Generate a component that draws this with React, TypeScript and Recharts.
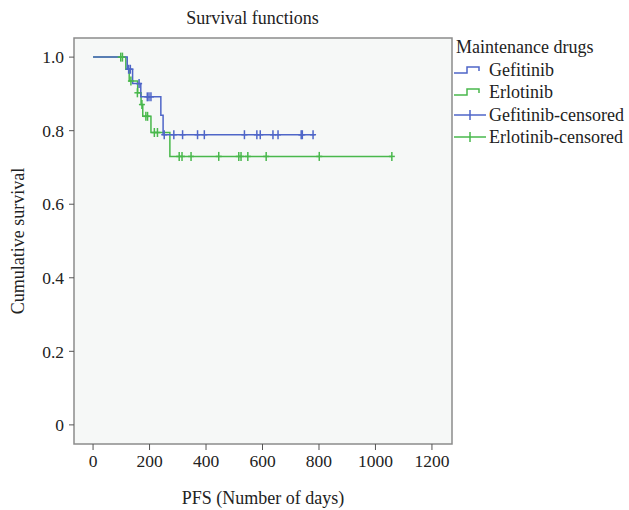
import React from 'react';
import { ComposedChart, Line, Scatter, XAxis, YAxis, CartesianGrid, ReferenceArea, Label } from 'recharts';

// Kaplan-Meier step points (day, cumulative survival)
const gefitinibSteps = [
  { x: 0, y: 1.0 },
  { x: 121, y: 0.967 },
  { x: 140, y: 0.928 },
  { x: 169, y: 0.892 },
  { x: 240, y: 0.842 },
  { x: 248, y: 0.789 },
  { x: 785, y: 0.789 },
];

const erlotinibSteps = [
  { x: 0, y: 1.0 },
  { x: 116, y: 0.967 },
  { x: 128, y: 0.935 },
  { x: 158, y: 0.903 },
  { x: 170, y: 0.871 },
  { x: 176, y: 0.839 },
  { x: 205, y: 0.795 },
  { x: 272, y: 0.73 },
  { x: 1058, y: 0.73 },
];

// Censored observations
const gefitinibCensored = [
  { x: 126, y: 0.967 }, { x: 132, y: 0.967 }, { x: 163, y: 0.928 },
  { x: 192, y: 0.892 }, { x: 198, y: 0.892 }, { x: 205, y: 0.892 },
  { x: 252, y: 0.789 }, { x: 286, y: 0.789 }, { x: 317, y: 0.789 },
  { x: 370, y: 0.789 }, { x: 394, y: 0.789 }, { x: 536, y: 0.789 },
  { x: 580, y: 0.789 }, { x: 592, y: 0.789 }, { x: 637, y: 0.789 },
  { x: 655, y: 0.789 }, { x: 737, y: 0.789 }, { x: 741, y: 0.789 },
  { x: 779, y: 0.789 },
];

const erlotinibCensored = [
  { x: 98, y: 1.0 }, { x: 104, y: 1.0 }, { x: 134, y: 0.935 },
  { x: 157, y: 0.903 }, { x: 173, y: 0.871 }, { x: 187, y: 0.839 },
  { x: 193, y: 0.839 }, { x: 217, y: 0.795 }, { x: 228, y: 0.795 },
  { x: 305, y: 0.73 }, { x: 315, y: 0.73 }, { x: 347, y: 0.73 },
  { x: 445, y: 0.73 }, { x: 516, y: 0.73 }, { x: 524, y: 0.73 },
  { x: 548, y: 0.73 }, { x: 613, y: 0.73 }, { x: 801, y: 0.73 },
  { x: 1058, y: 0.73 },
];

const xTicks = [0, 200, 400, 600, 800, 1000, 1200];
const yTicks = [0, 0.2, 0.4, 0.6, 0.8, 1.0];

const BLUE = '#4f66c8';
const GREEN = '#49b84c';
const FONT = '"Liberation Serif", "Times New Roman", serif';

const censorMark = (color: string) => (props: any) => {
  const { cx, cy } = props;
  return (
    <g>
      <line x1={cx} x2={cx} y1={cy - 4.5} y2={cy + 4.5} stroke={color} strokeWidth={1.5} />
      <line x1={cx - 3} x2={cx + 3} y1={cy} y2={cy} stroke={color} strokeWidth={1.5} />
    </g>
  );
};

const StepIcon = ({ color }: { color: string }) => (
  <svg width={34} height={14} style={{ display: 'block' }}>
    <path d="M1 10 H14 V4 H26 V8" fill="none" stroke={color} strokeWidth={1.5} />
  </svg>
);

const CensorIcon = ({ color }: { color: string }) => (
  <svg width={34} height={14} style={{ display: 'block' }}>
    <line x1={1} x2={33} y1={7} y2={7} stroke={color} strokeWidth={1.5} />
    <line x1={17} x2={17} y1={2} y2={12} stroke={color} strokeWidth={1.5} />
  </svg>
);

const legendItems = [
  { label: 'Gefitinib', icon: <StepIcon color={BLUE} /> },
  { label: 'Erlotinib', icon: <StepIcon color={GREEN} /> },
  { label: 'Gefitinib-censored', icon: <CensorIcon color={BLUE} /> },
  { label: 'Erlotinib-censored', icon: <CensorIcon color={GREEN} /> },
];

const SurvivalLegend = () => (
  <div
    style={{
      position: 'absolute', left: 453, top: 36, width: 176,
      fontFamily: FONT, fontSize: 18, color: '#222', lineHeight: '22.5px',
    }}
  >
    <div style={{ paddingLeft: 3 }}>Maintenance drugs</div>
    {legendItems.map((it) => (
      <div key={it.label} style={{ display: 'flex', alignItems: 'center' }}>
        {it.icon}
        <span style={{ marginLeft: 2 }}>{it.label}</span>
      </div>
    ))}
  </div>
);

export default function App() {
  return (
    <div style={{ position: 'absolute', left: 0, top: 0, width: 629, height: 510, background: '#fff' }}>
      <div
        style={{
          position: 'absolute', left: 0, width: 505, top: 8, textAlign: 'center',
          fontFamily: FONT, fontSize: 18, color: '#222',
        }}
      >
        Survival functions
      </div>
      <ComposedChart width={629} height={510} margin={{ top: 38, right: 177, bottom: 0, left: 0 }}>
        <CartesianGrid fill="#f6f8f7" stroke="none" horizontal={false} vertical={false} />
        <XAxis
          type="number"
          dataKey="x"
          domain={[-67.5, 1271]}
          ticks={xTicks}
          allowDataOverflow
          height={66}
          axisLine={false}
          tickSize={6}
          tickMargin={5}
          tickLine={{ stroke: '#555' }}
          tick={{ fill: '#222', fontSize: 17.5, fontFamily: FONT }}
        >
          <Label
            value="PFS (Number of days)"
            position="insideBottom"
            offset={6}
            style={{ fill: '#222', fontSize: 18, fontFamily: FONT }}
          />
        </XAxis>
        <YAxis
          type="number"
          dataKey="y"
          domain={[-0.052, 1.052]}
          ticks={yTicks}
          allowDataOverflow
          width={74}
          axisLine={false}
          tickSize={5}
          tickMargin={5}
          tickLine={{ stroke: '#555' }}
          tickFormatter={(v: number) => (v === 0 ? '0' : v.toFixed(1))}
          tick={{ fill: '#222', fontSize: 17.5, fontFamily: FONT }}
        >
          <Label
            content={(p: any) => {
              const vb = p.viewBox;
              const cy = vb.y + vb.height / 2;
              return (
                <text
                  x={18}
                  y={cy}
                  transform={`rotate(-90, 18, ${cy})`}
                  textAnchor="middle"
                  dominantBaseline="central"
                  style={{ fill: '#222', fontSize: 18, fontFamily: FONT }}
                >
                  Cumulative survival
                </text>
              );
            }}
          />
        </YAxis>
        <ReferenceArea
          x1={-67.5}
          x2={1271}
          y1={-0.052}
          y2={1.052}
          fill="none"
          fillOpacity={0}
          stroke="#8c8c8c"
          strokeWidth={1.5}
          ifOverflow="visible"
        />
        <Line
          data={erlotinibSteps}
          dataKey="y"
          type="stepAfter"
          stroke={GREEN}
          strokeWidth={1.5}
          dot={false}
          isAnimationActive={false}
        />
        <Line
          data={gefitinibSteps}
          dataKey="y"
          type="stepAfter"
          stroke={BLUE}
          strokeWidth={1.5}
          dot={false}
          isAnimationActive={false}
        />
        <Scatter data={erlotinibCensored} dataKey="y" shape={censorMark(GREEN)} isAnimationActive={false} />
        <Scatter data={gefitinibCensored} dataKey="y" shape={censorMark(BLUE)} isAnimationActive={false} />
      </ComposedChart>
      <SurvivalLegend />
    </div>
  );
}
